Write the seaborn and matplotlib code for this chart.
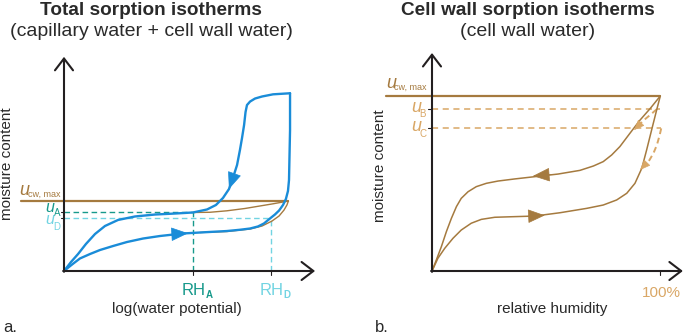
import matplotlib
matplotlib.use("Agg")
import matplotlib.pyplot as plt
import seaborn as sns

sns.set_theme(style="white")
plt.rcParams["font.family"] = ["Liberation Sans", "DejaVu Sans"]

BLUE = "#1a8cd8"
BROWN = "#a57a3f"
TEAL = "#17998b"
CYAN = "#72d4e2"
TAN = "#d9a766"
AXIS = "#231f20"
TXT = "#2a2a2a"

# ---- panel a: total sorption (x: log water potential, RH_D = 1 ; y: moisture, u_cw,max = 1)
a_des_x = [1.092, 1.010, 0.957, 0.923, 0.899, 0.884, 0.877, 0.870, 0.860, 0.850, 0.836, 0.816,
           0.797, 0.768, 0.734, 0.691, 0.623, 0.536, 0.440, 0.343, 0.261, 0.198, 0.150, 0.106,
           0.068, 0.034, 0.0]
a_des_y = [2.539, 2.524, 2.493, 2.464, 2.421, 2.371, 2.271, 2.086, 1.900, 1.729, 1.514, 1.329,
           1.171, 1.043, 0.943, 0.879, 0.836, 0.821, 0.807, 0.779, 0.729, 0.643, 0.529, 0.386,
           0.243, 0.129, 0.0]
a_ads_x = [0.0, 0.039, 0.077, 0.126, 0.174, 0.237, 0.304, 0.382, 0.464, 0.575, 0.657, 0.787,
           0.850, 0.899, 0.937, 0.966, 0.995, 1.019, 1.039, 1.058, 1.072, 1.082, 1.087, 1.089,
           1.092, 1.092]
a_ads_y = [0.0, 0.093, 0.179, 0.243, 0.300, 0.357, 0.414, 0.464, 0.500, 0.536, 0.550, 0.571,
           0.589, 0.607, 0.636, 0.679, 0.750, 0.807, 0.864, 0.943, 1.029, 1.143, 1.300, 1.586,
           2.014, 2.539]
a_cw_des_x = [0.623, 0.705, 0.787, 0.874, 0.947, 1.010, 1.058, 1.084]
a_cw_des_y = [0.836, 0.839, 0.860, 0.893, 0.929, 0.960, 0.986, 1.0]
a_cw_ads_x = [0.657, 0.787, 0.899, 0.957, 1.005, 1.039, 1.063, 1.077, 1.084]
a_cw_ads_y = [0.550, 0.564, 0.600, 0.643, 0.714, 0.786, 0.871, 0.943, 1.0]
a_ucw = 1.0
a_rh = [0.622, 1.0]          # RH_A, RH_D
a_u = [0.843, 0.753]         # u_A, u_D

# ---- panel b: cell wall sorption (x: relative humidity, 100% = 1 ; y: moisture, u_cw,max = 1)
b_des_x = [0.0, 0.019, 0.041, 0.063, 0.085, 0.107, 0.128, 0.158, 0.194, 0.238, 0.289, 0.362,
           0.450, 0.552, 0.648, 0.707, 0.750, 0.787, 0.823, 0.867, 0.911, 0.956, 1.0]
b_des_y = [0.0, 0.063, 0.139, 0.225, 0.301, 0.368, 0.415, 0.453, 0.482, 0.501, 0.514, 0.526,
           0.539, 0.554, 0.575, 0.600, 0.625, 0.663, 0.711, 0.787, 0.862, 0.929, 1.0]
b_ads_x = [0.0, 0.026, 0.056, 0.092, 0.128, 0.172, 0.216, 0.275, 0.347, 0.450, 0.561, 0.678,
           0.750, 0.809, 0.853, 0.889, 0.919, 0.940, 0.962, 0.984, 1.0]
b_ads_y = [0.0, 0.073, 0.130, 0.187, 0.234, 0.273, 0.295, 0.307, 0.310, 0.314, 0.333, 0.358,
           0.377, 0.406, 0.444, 0.501, 0.587, 0.691, 0.806, 0.920, 1.0]
b_scan1_x = [0.984, 0.955, 0.925, 0.892]
b_scan1_y = [0.924, 0.891, 0.859, 0.814]
b_scan2_x = [1.004, 0.997, 0.985, 0.970, 0.952, 0.935]
b_scan2_y = [0.815, 0.775, 0.720, 0.673, 0.633, 0.605]
b_ucw = 1.0
b_u = [0.927, 0.819]         # u_B, u_C

W, H = 685, 335
fig = plt.figure(figsize=(W / 100, H / 100), dpi=100)


def txt(x, y, s, **kw):
    kw.setdefault("va", "baseline")
    fig.text(x / W, 1 - y / H, s, **kw)


def curve(ax, x, y, color, lw, ls="-"):
    sns.lineplot(x=x, y=y, ax=ax, sort=False, estimator=None, color=color,
                 linewidth=lw, linestyle=ls, legend=False)


def head(ax, tip, back, color, size=1.0):
    ax.annotate("", xy=tip, xytext=back, annotation_clip=False,
                arrowprops=dict(arrowstyle=f"-|>,head_length={1.1 * size},head_width={0.45 * size}",
                                mutation_scale=10, color=color, lw=0.5, shrinkA=0, shrinkB=0))


def axis_arrows(ax, xend, yend, dx, dy):
    kw = dict(arrowstyle="->,head_length=0.85,head_width=0.65", mutation_scale=10,
              color=AXIS, lw=1.5, shrinkA=0, shrinkB=0)
    ax.annotate("", xy=(xend, 0), xytext=(-dx, 0), arrowprops=kw, annotation_clip=False)
    ax.annotate("", xy=(0, yend), xytext=(0, -dy), arrowprops=kw, annotation_clip=False)


def ulabel(x, y, sub, color, dy, sx=8.5, size=13, subsize=7):
    txt(x, y, "u", color=color, fontsize=size, style="italic")
    txt(x + sx, y + dy, sub, color=color, fontsize=subsize)


# ================= panel a  (origin at 64,271 px; 207 px / x-unit; 70 px / y-unit)
axa = fig.add_axes([0, 0, 340 / W, 1])
axa.set_xlim(-64 / 207, (340 - 64) / 207)
axa.set_ylim((271 - 335) / 70, 271 / 70)
axa.set_axis_off()

curve(axa, [0, a_rh[0]], [a_u[0], a_u[0]], TEAL, 1.0, (0, (4, 2.5)))
curve(axa, [a_rh[0], a_rh[0]], [0, a_u[0]], TEAL, 1.0, (0, (4, 2.5)))
curve(axa, [0, a_rh[1]], [a_u[1], a_u[1]], CYAN, 1.0, (0, (4, 2.5)))
curve(axa, [a_rh[1], a_rh[1]], [0, a_u[1]], CYAN, 1.0, (0, (4, 2.5)))
curve(axa, [-0.208, 1.084], [a_ucw, a_ucw], BROWN, 1.6)
curve(axa, a_cw_des_x, a_cw_des_y, BROWN, 1.0)
curve(axa, a_cw_ads_x, a_cw_ads_y, BROWN, 1.0)
curve(axa, a_des_x, a_des_y, BLUE, 1.7)
curve(axa, a_ads_x, a_ads_y, BLUE, 1.7)
head(axa, (0.797, 1.171), (0.816, 1.329), BLUE)
head(axa, (0.599, 0.539), (0.52, 0.525), BLUE)
for v in a_u:
    axa.plot([-0.016, 0], [v, v], color=AXIS, lw=0.8)
for v in a_rh:
    axa.plot([v, v], [-0.06, 0], color=AXIS, lw=0.8)
axis_arrows(axa, 1.213, 3.06, 0.004, 0.011)

txt(151, 15, "Total sorption isotherms", ha="center", fontsize=13.7, fontweight="bold", color=TXT)
txt(151, 36.5, "(capillary water + cell wall water)", ha="center", fontsize=14, color=TXT)
txt(7.5, 164, "moisture content", ha="center", va="center", rotation=90, fontsize=11, color=TXT)
txt(177, 313, "log(water potential)", ha="center", fontsize=11, color=TXT)
txt(3, 332, "a.", fontsize=12, color=TXT)
ulabel(19, 195, "cw, max", BROWN, 2, subsize=6.5)
ulabel(45, 211.5, "A", TEAL, 5, size=11.5)
ulabel(45, 224, "D", CYAN, 6, size=11.5)
txt(182, 295, "RH", fontsize=12, color=TEAL)
txt(205.5, 297.5, "A", fontsize=7, fontweight="bold", color=TEAL)
txt(260, 295, "RH", fontsize=12, color=CYAN)
txt(283.5, 297.5, "D", fontsize=7, fontweight="bold", color=CYAN)

# ================= panel b  (origin at 432,271 px; 228.3 px / x-unit; 175 px / y-unit)
axb = fig.add_axes([340 / W, 0, 345 / W, 1])
axb.set_xlim((340 - 432) / 228.3, (685 - 432) / 228.3)
axb.set_ylim((271 - 335) / 175, 271 / 175)
axb.set_axis_off()

curve(axb, [0, 1.0], [b_u[0], b_u[0]], TAN, 1.1, (0, (4, 3)))
curve(axb, [0, 1.004], [b_u[1], b_u[1]], TAN, 1.1, (0, (4, 3)))
curve(axb, b_scan1_x, b_scan1_y, TAN, 1.4, (0, (3, 2)))
curve(axb, b_scan2_x, b_scan2_y, TAN, 1.4, (0, (3, 2)))
curve(axb, [-0.201, 1.0], [b_ucw, b_ucw], BROWN, 1.6)
curve(axb, b_des_x, b_des_y, BROWN, 1.1)
curve(axb, b_ads_x, b_ads_y, BROWN, 1.1)
head(axb, (0.442, 0.543), (0.52, 0.551), BROWN)
head(axb, (0.494, 0.318), (0.42, 0.313), BROWN)
head(axb, (0.885, 0.805), (0.905, 0.832), TAN, 0.6)
head(axb, (0.911, 0.577), (0.93, 0.603), TAN, 0.6)
for v in b_u:
    axb.plot([-0.018, 0], [v, v], color=AXIS, lw=0.8)
axb.plot([1.0, 1.0], [-0.023, 0], color=AXIS, lw=0.8)
axis_arrows(axb, 1.099, 1.246, 0.004, 0.005)

txt(528, 15, "Cell wall sorption isotherms", ha="center", fontsize=13.7, fontweight="bold", color=TXT)
txt(528, 36, "(cell wall water)", ha="center", fontsize=14, color=TXT)
txt(380, 166, "moisture content", ha="center", va="center", rotation=90, fontsize=11, color=TXT)
txt(552, 312.5, "relative humidity", ha="center", fontsize=11, color=TXT)
txt(375, 332, "b.", fontsize=12, color=TXT)
txt(661, 297, "100%", ha="center", fontsize=11, color=TAN)
ulabel(386, 88, "cw, max", BROWN, 2, subsize=6.5)
ulabel(411, 112, "B", TAN, 5)
ulabel(411, 131, "C", TAN, 6)

fig.savefig("out.png", dpi=100)
